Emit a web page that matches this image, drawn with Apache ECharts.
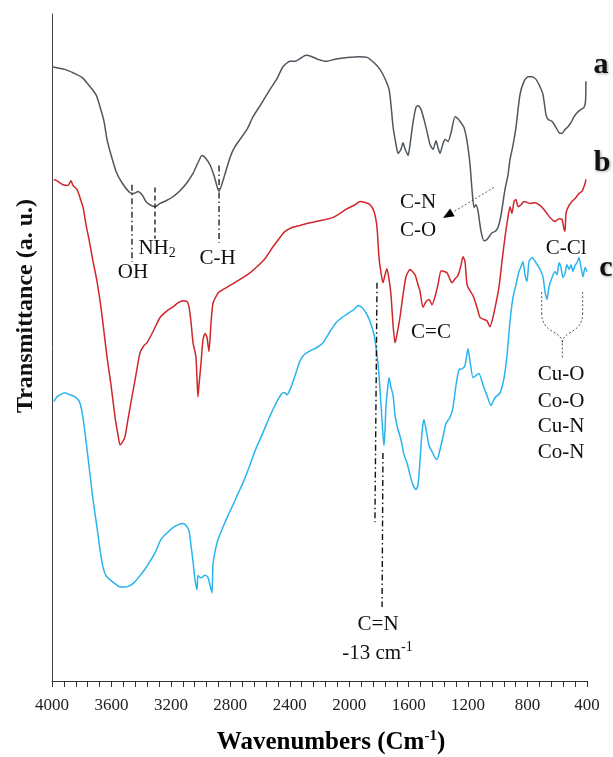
<!DOCTYPE html>
<html><head><meta charset="utf-8">
<script src="https://cdn.jsdelivr.net/npm/echarts@6/dist/echarts.min.js"></script>
<style>html,body{margin:0;padding:0;background:#fff}#c{width:613px;height:757px}</style>
</head><body><div id="c"></div>
<script>
// ---- data (wavenumber cm-1, transmittance arbitrary units) ----
const wnA = [4000,3913,3859,3798,3744,3704,3677,3650,3630,3603,3569,3529,3475,3448,3421,3394,3368,3341,3307,3273,3233,3186,3139,3092,3051,3018,2991,2970,2937,2910,2876,2843,2802,2769,2735,2688,2647,2587,2533,2486,2446,2398,2365,2331,2291,2250,2210,2156,2096,1995,1941,1880,1833,1793,1759,1732,1719,1705,1685,1672,1652,1638,1625,1604,1591,1571,1551,1537,1517,1497,1477,1456,1436,1416,1403,1389,1369,1355,1335,1315,1288,1268,1248,1228,1207,1187,1174,1160,1147,1133,1113,1093,1073,1053,1039,1019,999,979,952,932,918,898,878,851,824,797,770,743,716,696,676,662,635,609,588,568,548,528,508,487,467,440,420,410,407];
const tA = [92.1,91.7,91.2,90.5,89.1,87.9,86.1,83.9,81.2,78.9,76.4,74.7,73.2,73.1,73.4,72.9,71.9,71.4,71.1,71.6,72,72.6,73.5,74.7,76.1,77.7,78.8,78.5,77.4,75.8,73.4,75.5,78.5,80.1,81.2,82.7,84.6,86.7,88.7,90.3,92.1,92.9,92.9,93.3,93.8,93.6,93.2,92.9,93.2,93.5,93.6,93.5,92.7,91.7,90.3,88.7,86.4,83.1,80.4,79.1,79.7,80.7,79.8,78.8,80.4,83.7,86,86.3,85.7,84.2,82.4,80.4,79.7,81,80,79.1,80.6,81.2,80.9,82.2,84.6,84.3,83.7,83,80.9,77.4,73.7,71,71.4,70.4,67.4,66,66.2,66.8,67.2,67.4,68,69.8,73.7,75.8,78.2,80.3,83,87.9,89.9,90.6,90.6,90.2,89.1,87.9,84.9,84.2,83.9,83,82.2,82.1,82.7,83.1,83.7,84.6,85.2,85.7,86,86.9,89.9];

const wnB = [3987,3960,3926,3892,3872,3859,3832,3812,3791,3771,3751,3724,3697,3664,3630,3603,3576,3556,3542,3529,3509,3489,3462,3435,3408,3381,3361,3320,3273,3226,3186,3152,3118,3092,3078,3065,3051,3038,3031,3024,3018,3011,2997,2984,2970,2957,2944,2930,2917,2890,2870,2802,2735,2668,2621,2567,2513,2466,2432,2385,2331,2264,2197,2109,2022,1961,1927,1887,1860,1833,1813,1800,1786,1773,1759,1746,1732,1719,1705,1692,1679,1658,1638,1618,1591,1557,1537,1524,1504,1483,1463,1443,1423,1403,1382,1362,1342,1322,1308,1288,1268,1248,1234,1221,1207,1187,1167,1140,1120,1093,1073,1053,1033,1012,992,972,952,932,918,905,891,878,864,844,824,783,750,716,683,649,615,588,568,555,548,541,521,501,474,454,434,413,407];
const tB = [75.2,74.9,74.4,74.3,75,74.3,73.7,72.5,71,68.4,66.2,62.9,59.9,54.9,48.6,44.4,39.6,36.9,35.4,35.7,36.6,39.2,42.6,45.9,49.2,50.3,50.7,52.4,54.5,55.5,56.1,56.7,57,56.9,56.1,53.9,50.7,49.4,48.5,45.2,42.6,44.4,47.7,51.2,52.1,51.5,49.4,53.7,56.6,57.9,58.4,59.3,60.2,61.2,62.1,63.3,65.1,66.5,67.4,68,68.3,68.7,69,69.5,70.7,71.4,71.9,71.7,71.4,70.4,68,63.6,61.2,59.7,60.9,61.8,60.2,57.9,53.4,50.7,51.9,54.6,57.9,60.6,61.7,60.9,59.4,58.5,56,56.9,57.2,56.4,57.6,59.4,61.5,61.4,61.2,60.2,59.7,60.3,60.8,62.3,63.6,62.9,59.4,58.5,57.8,56,54.5,54.2,54,53.1,54.5,56.7,59.1,62.9,66.5,69.5,71.1,70.1,71.9,72.2,71.1,71.4,71.9,71.6,71.7,71.3,70.5,69.5,68.9,69.3,69.2,67.8,67.4,70.2,71.3,71.9,72.5,73.1,73.4,74.6,75.2];

const wnC = [3987,3966,3946,3913,3879,3845,3818,3798,3785,3764,3744,3724,3697,3677,3657,3637,3610,3576,3542,3509,3475,3441,3408,3374,3341,3307,3267,3226,3186,3152,3118,3098,3078,3065,3051,3038,3024,3018,3004,2991,2977,2964,2950,2937,2923,2917,2903,2883,2849,2816,2782,2748,2715,2674,2634,2587,2547,2513,2479,2446,2432,2419,2398,2378,2351,2331,2304,2264,2217,2176,2129,2089,2049,2008,1968,1941,1914,1887,1860,1833,1813,1800,1786,1773,1766,1759,1753,1739,1732,1719,1705,1692,1672,1652,1631,1611,1591,1571,1551,1537,1524,1510,1497,1483,1463,1443,1423,1409,1389,1369,1349,1322,1302,1281,1261,1241,1221,1201,1187,1167,1147,1127,1100,1073,1046,1019,985,958,938,918,898,878,858,844,831,817,804,790,770,743,716,696,683,669,656,635,615,602,588,575,562,548,535,521,508,494,481,467,454,440,427,413,400];
const tC = [41.9,42.6,42.9,43.2,42.9,42.6,42,40.4,38.4,34.7,30.9,27.2,23,19.7,17.1,15.8,15.2,14.6,14.1,14.1,14.3,14.9,15.8,16.8,17.9,19.2,21.2,22.2,23,23.4,23.6,23.3,22.5,20.4,17.9,15.2,13.7,15.8,15.5,15.5,15.8,15.8,15.5,14.4,13.2,17.4,19.4,21.2,23.1,24.8,26.4,28.1,29.7,32,34.5,36.9,39,40.7,42.2,43.2,43.2,42.9,43.7,44.9,46.7,48,48.9,49.5,50,50.7,52.4,53.7,54.5,55.1,55.7,56.3,56,55.2,53.9,51.9,48.9,45.9,41.4,36.9,35.3,37.7,41.1,44.4,45.5,44,42.9,39.9,37.7,36.2,33.9,32.7,30.9,29.4,28.7,29.4,32.9,37.4,39.2,37.7,35.3,34.4,33.5,33.2,34.7,36.6,38.6,39.5,41,44.4,46.7,46.8,47.3,49.8,47.9,45.5,45.8,46.1,44.4,42.8,41.3,42.5,43.2,45.5,48.9,53.9,57.5,59.4,61.4,62.1,62.9,60.9,59.9,62.9,63.5,62.7,61.7,60.6,58.4,57.2,59.1,60.5,61.4,60.9,62.7,62,60.5,61.1,62.4,61.7,62.4,61.4,62.3,62.7,63.5,62,60.6,62,61.4];

const xTicks = [4000,3600,3200,2800,2400,2000,1600,1200,800,400];

const seriesNames = ['a','b','c'];
const seriesColors = ['#50565e','#d0262a','#2ab4ee'];

const zip = (w, t) => w.map((v, i) => [v, t[i]]);
const SERIF = '"Liberation Serif","Times New Roman",serif';

const chart = echarts.init(document.getElementById('c'), null, {renderer: 'canvas'});
chart.setOption({
  animation: false,
  backgroundColor: '#fff',
  grid: {left: 52, right: 26, top: 14, bottom: 76},
  xAxis: {
    type: 'value', min: 400, max: 4000, interval: 400, inverse: true,
    axisLine: {show: true, lineStyle: {color: '#333', width: 1}},
    axisTick: {show: true, length: 6, lineStyle: {color: '#333'}},
    minorTick: {show: true, splitNumber: 5, length: 6, lineStyle: {color: '#333'}},
    splitLine: {show: false},
    axisLabel: {
      fontFamily: SERIF, fontSize: 17, color: '#222', margin: 16,
      formatter: v => xTicks.includes(v) ? String(v) : ''
    }
  },
  yAxis: {
    type: 'value', min: 0, max: 100,
    axisLine: {show: true, lineStyle: {color: '#444', width: 1}},
    axisTick: {show: false}, axisLabel: {show: false}, splitLine: {show: false}
  },
  series: [zip(wnA, tA), zip(wnB, tB), zip(wnC, tC)].map((d, i) => ({
    name: seriesNames[i], type: 'line', data: d, showSymbol: false, symbol: 'none',
    smooth: 0.2, lineStyle: {color: seriesColors[i], width: 1.5}, z: 2
  }))
});

// ---- annotations (anchored in data coordinates) ----
const P = (wn, v) => chart.convertToPixel({gridIndex: 0}, [wn, v]);
const g = [];
const txt = (wn, v, text, opts = {}) => {
  const [x, y] = P(wn, v);
  g.push({type: 'text', x, y, z: 10, style: Object.assign({
    text, fill: '#111', font: `21px ${SERIF}`, align: 'center', verticalAlign: 'middle'
  }, opts)});
};
const line = (w1, v1, w2, v2, dash, width = 1.3, color = '#111') => {
  const [x1, y1] = P(w1, v1), [x2, y2] = P(w2, v2);
  g.push({type: 'line', z: 9, shape: {x1, y1, x2, y2},
    style: {stroke: color, lineWidth: width, lineDash: dash}});
};
const DASHDOT = [6, 3, 1.5, 3];

// OH
line(3462, 74.4, 3462, 62.8, DASHDOT);
txt(3455, 61.2, 'OH');
// NH2
line(3307, 74.0, 3307, 66.3, [5, 3]);
const richSub = {
  n: {fontFamily: SERIF, fontSize: 21, color: '#111'},
  s: {fontFamily: SERIF, fontSize: 14, color: '#111', padding: [10, 0, 0, 0]}
};
txt(3293, 64.9, '{n|NH}{s|2}', {rich: richSub});
// C-H
line(2876, 77.3, 2876, 65.7, DASHDOT);
txt(2886, 63.4, 'C-H');
// C-N / C-O with arrow
txt(1537, 71.7, 'C-N');
txt(1537, 67.6, 'C-O');
(function () {
  const [x1, y1] = P(1026, 74.0), [x2, y2] = P(1369, 69.4);
  const dx = x2 - x1, dy = y2 - y1, L = Math.hypot(dx, dy), ux = dx / L, uy = dy / L;
  const bx = x2 - ux * 11, by = y2 - uy * 11;
  g.push({type: 'line', z: 9, shape: {x1, y1, x2: bx, y2: by},
    style: {stroke: '#333', lineWidth: 0.8, lineDash: [2, 2]}});
  g.push({type: 'polygon', z: 9, shape: {points: [[x2, y2], [bx - uy * 4.5, by + ux * 4.5], [bx + uy * 4.5, by - ux * 4.5]]},
    style: {fill: '#000'}});
})();
// C=C
txt(1450, 52.3, 'C=C');
// C-Cl
txt(541, 64.9, 'C-Cl');
// C=N lines
line(1813, 59.7, 1827, 23.8, DASHDOT, 1.4);
line(1773, 34.2, 1779, 11.1, DASHDOT, 1.4);
txt(1806, 8.4, 'C=N');
txt(1810, 4.2, '{n|-13 cm}{p|-1}', {rich: {
  n: {fontFamily: SERIF, fontSize: 21, color: '#111'},
  p: {fontFamily: SERIF, fontSize: 14, color: '#111', padding: [0, 0, 12, 0]}
}});
// metal-ligand bracket
(function () {
  const [lx, ty] = P(705, 58.3), [rx] = P(429, 58.3);
  const [cx, jy] = P(566, 50.6), [, my] = P(566, 55.2), [, by] = P(566, 48.4);
  const st = {stroke: '#444', lineWidth: 0.9, lineDash: [2, 2], fill: null};
  g.push({type: 'line', z: 9, shape: {x1: lx, y1: ty, x2: lx, y2: my}, style: st});
  g.push({type: 'line', z: 9, shape: {x1: rx, y1: ty, x2: rx, y2: my}, style: st});
  g.push({type: 'bezierCurve', z: 9, shape: {x1: lx, y1: my, cpx1: lx, cpy1: my + 22, cpx2: cx, cpy2: jy - 14, x2: cx, y2: jy}, style: st});
  g.push({type: 'bezierCurve', z: 9, shape: {x1: rx, y1: my, cpx1: rx, cpy1: my + 22, cpx2: cx, cpy2: jy - 14, x2: cx, y2: jy}, style: st});
  g.push({type: 'line', z: 9, shape: {x1: cx, y1: jy, x2: cx, y2: by}, style: st});
})();
txt(575, 45.9, 'Cu-O');
txt(575, 41.9, 'Co-O');
txt(575, 38.1, 'Cu-N');
txt(575, 34.2, 'Co-N');

// series letters
const letterStyle = {font: `bold 30px ${SERIF}`, fill: '#111',
  textShadowColor: 'rgba(0,0,0,0.35)', textShadowBlur: 3, textShadowOffsetX: 1, textShadowOffsetY: 1};
g.push({type: 'text', x: 601, y: 65, z: 10, style: Object.assign({text: seriesNames[0], align: 'center', verticalAlign: 'middle'}, letterStyle)});
g.push({type: 'text', x: 602, y: 163, z: 10, style: Object.assign({text: seriesNames[1], align: 'center', verticalAlign: 'middle'}, letterStyle)});
g.push({type: 'text', x: 606, y: 268, z: 10, style: Object.assign({text: seriesNames[2], align: 'center', verticalAlign: 'middle'}, letterStyle)});

// axis titles
g.push({type: 'text', x: 331, y: 743, z: 10, style: {
  text: '{b|Wavenumbers (Cm}{s|-1}{b|)}', align: 'center', verticalAlign: 'middle',
  rich: {
    b: {fontFamily: SERIF, fontSize: 25, fontWeight: 'bold', color: '#111'},
    s: {fontFamily: SERIF, fontSize: 15, fontWeight: 'bold', color: '#111', padding: [0, 0, 14, 0]}
  }
}});
g.push({type: 'text', x: 26, y: 306, rotation: Math.PI / 2, z: 10, style: {
  text: 'Transmittance (a. u.)', font: `bold 24px ${SERIF}`, fill: '#111',
  align: 'center', verticalAlign: 'middle'
}});

chart.setOption({graphic: g});
</script>
</body></html>
